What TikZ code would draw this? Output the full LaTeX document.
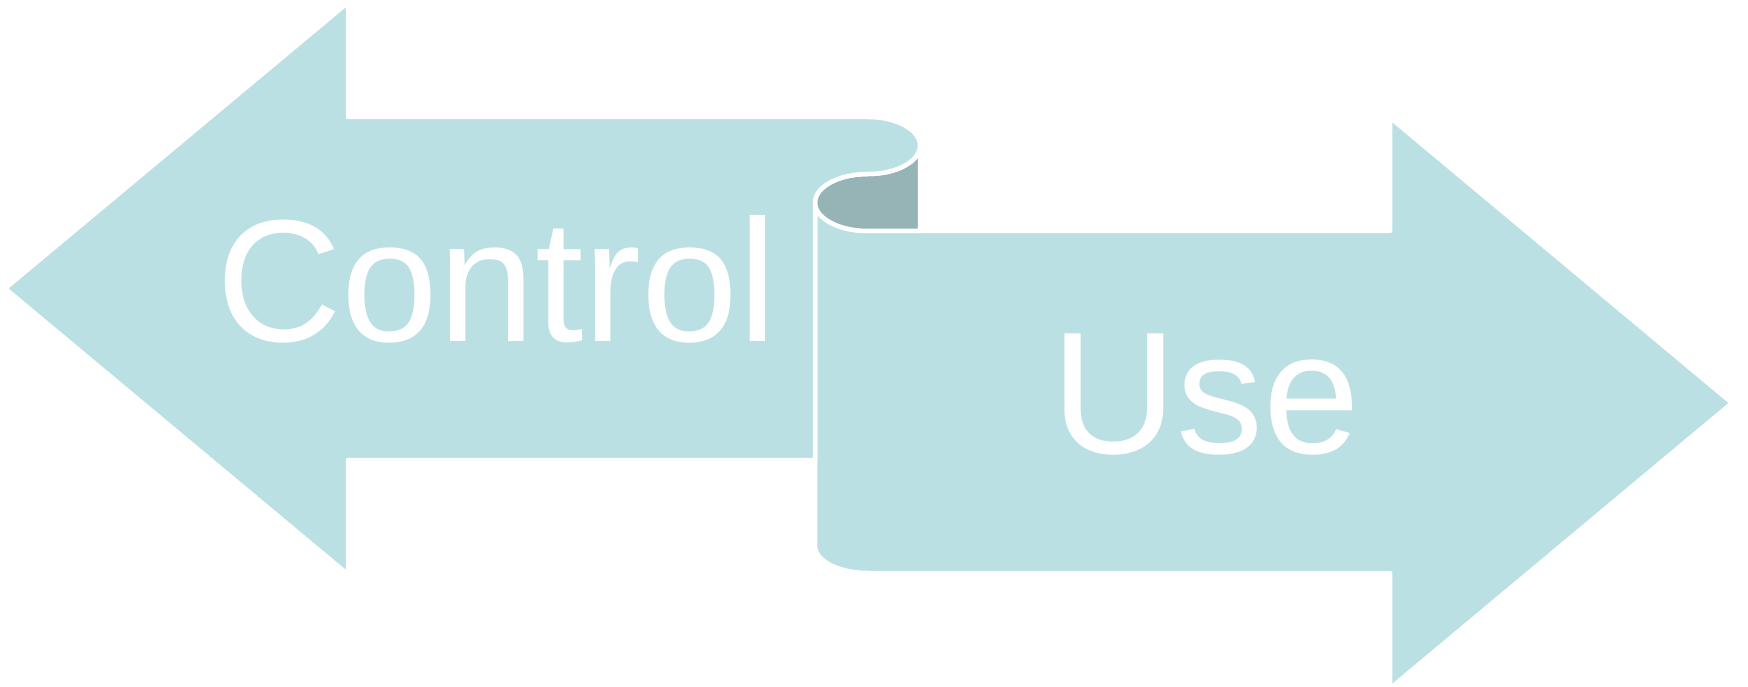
\documentclass[tikz,border=0pt]{standalone}
\usepackage{fontspec}
\setmainfont{Liberation Sans}
\usepackage{tikz}
\usetikzlibrary{positioning}
\definecolor{pteal}{HTML}{BBE0E3}
\definecolor{ptealdk}{HTML}{96B4B6}
\tikzset{
  % flat pastel sheet with a white rim
  sheet/.style = {fill=pteal, draw=white, line width=4.5pt, line join=round},
  curl/.style  = {fill=ptealdk, draw=white, line width=4.5pt, line join=round},
  word/.style  = {text=white, inner sep=0pt, anchor=base west,
                  font=\fontsize{174}{174}\selectfont},
}
\begin{document}
\begin{tikzpicture}[x=1pt,y=1pt]
\useasboundingbox (0,0) rectangle (1748,-687);
% right arrow, drawn first (lies under the roll)
\draw[sheet] (815,-202.5) arc[start angle=180, end angle=270, x radius=53, y radius=28.5]
  -- (1390,-231) -- (1390,-117.5) -- (1732,-403) -- (1390,-688.5) -- (1390,-573)
  -- (868,-573) arc[start angle=270, end angle=180, x radius=53, y radius=27]
  -- cycle;
% inside of the roll
\draw[curl] (868,-174) arc[start angle=90, end angle=270, x radius=53, y radius=28.5]
  -- (920,-231) -- (920,-145.5)
  arc[start angle=0, end angle=-90, x radius=52, y radius=28.5] -- cycle;
% left arrow, curling into the right one
\draw[sheet] (5,-288.5) -- (348,-2.5) -- (348,-117) -- (868,-117)
  arc[start angle=90, end angle=-90, x radius=52, y radius=28.5]
  arc[start angle=90, end angle=180, x radius=53, y radius=28.5]
  -- (815,-460) -- (348,-460) -- (348,-574.5) -- cycle;
\node[word] (ctrl) at (216,-341) {Control};
\node[word] (use)  at (1051,-453) {Use};
\end{tikzpicture}
\end{document}
